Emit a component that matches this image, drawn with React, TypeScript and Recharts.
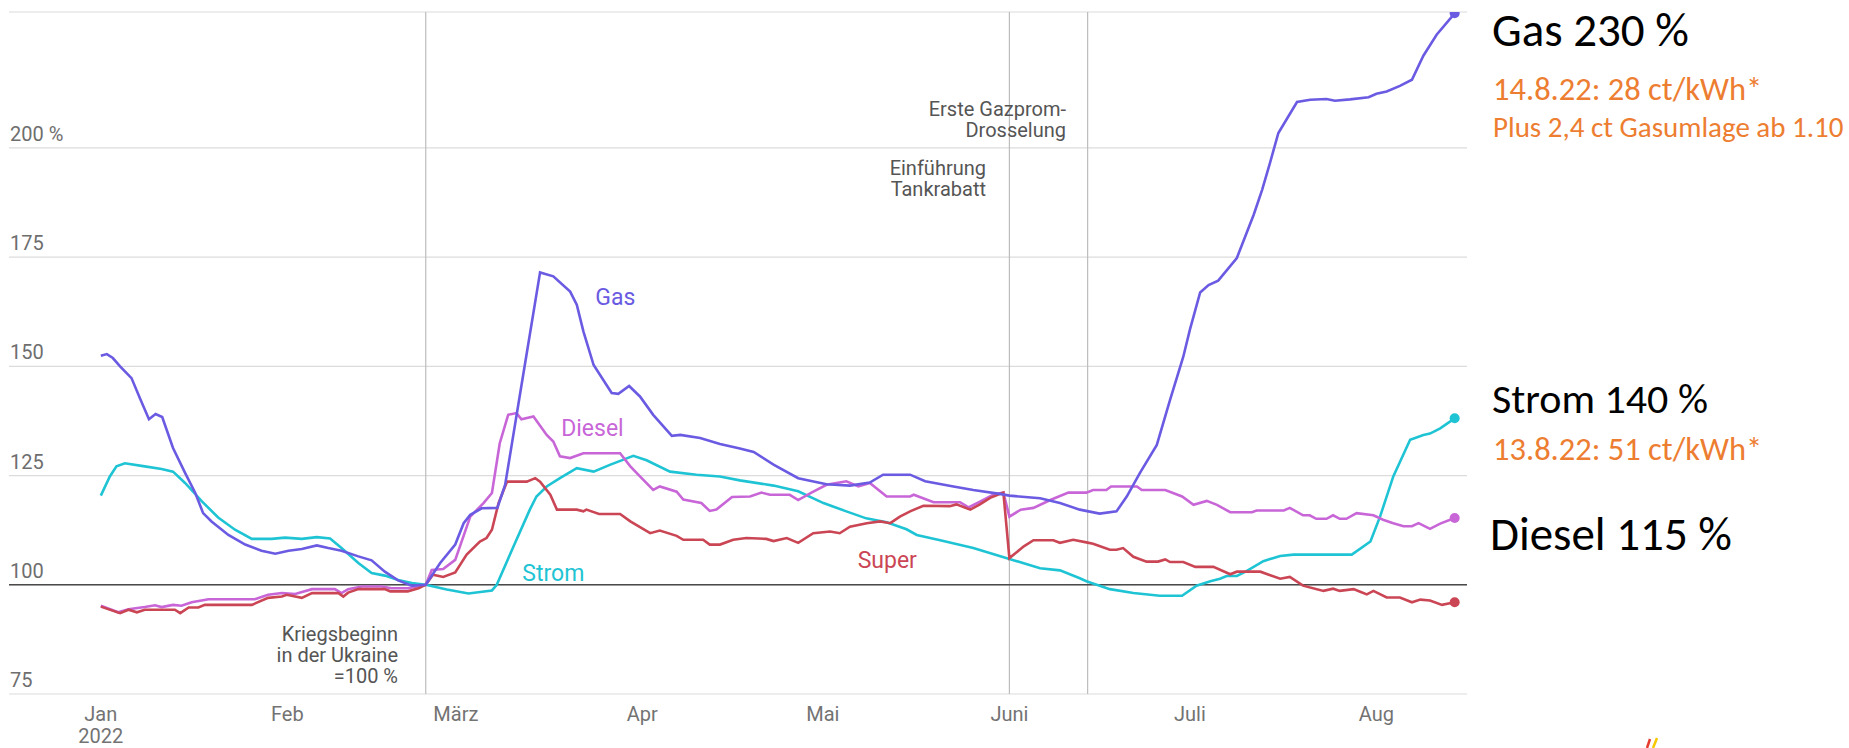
import React from 'react';
import { LineChart, Line, XAxis, YAxis, CartesianGrid, ReferenceLine, ReferenceDot } from 'recharts';

// days counted from 1 Jan 2022, index: 24 Feb 2022 = 100
const gas = [
  [0, 152.4], [1, 152.8], [2, 151.9], [3.2, 150], [5.1, 147.3], [6.5, 142.7], [8, 137.9], [9.1, 139.1],
  [10.2, 138.4], [12, 131.3], [14, 125.6], [15.7, 121], [17, 116.4], [18.4, 114.5], [21.2, 111.4], [24, 109.2],
  [26.7, 107.8], [29, 107.1], [31.2, 107.8], [33.4, 108.2], [35.9, 109], [37.8, 108.4], [40, 107.8], [42.8, 106.5],
  [45, 105.6], [47.2, 103], [49.4, 101], [51.7, 99.8], [54, 100], [56.4, 105], [58.9, 109.2], [60.3, 114.1],
  [61.4, 116], [63.3, 117.5], [65.9, 117.6], [67.2, 122.9], [69.7, 143.9], [73, 171.5], [75.2, 170.6], [78, 167.1],
  [79.1, 164.1], [80.2, 158], [81.9, 150.3], [84.9, 143.9], [86, 143.7], [87.8, 145.5], [89.6, 143.1], [91.8, 138.9],
  [94.9, 134.1], [96.3, 134.3], [99.6, 133.6], [102.9, 132.2], [106.2, 131.2], [108.5, 130.4], [111.8, 127.5],
  [115.9, 124.4], [120.6, 123], [124.5, 122.7], [127.8, 123.4], [130, 125.2], [134.5, 125.2], [137, 123.7],
  [141.7, 122.5], [145, 121.7], [149.4, 120.8], [151, 120.4], [156.1, 119.8], [159.4, 118.7], [162.7, 117.2],
  [166, 116.3], [168.8, 116.8], [170.5, 120.2], [172.7, 125.6], [175.5, 132], [177.7, 142.3], [179.9, 152.2],
  [181, 158.4], [182.7, 166.9], [184.1, 168.6], [185.7, 169.6], [188.8, 174.8], [191.6, 184.7], [193, 190.4],
  [194.3, 196.5], [195.7, 203.4], [198.8, 210.5], [201, 211], [203.7, 211.2], [205.1, 210.8], [207.6, 211.1],
  [210.7, 211.6], [212, 212.4], [213.7, 212.9], [215.9, 214.2], [217.9, 215.6], [219.8, 221.1], [222, 225.9],
  [225, 230.8],
];

const strom = [
  [0, 120.4], [1.5, 124.8], [2.6, 127.1], [4, 127.8], [7.3, 127.1], [10.1, 126.5], [12, 125.9], [14, 123.3],
  [16.8, 119.1], [19.5, 115.4], [22.3, 112.6], [25.1, 110.5], [28.4, 110.5], [30.6, 110.8], [33.4, 110.5],
  [35.9, 110.9], [38.1, 110.6], [40, 108.4], [42.8, 105], [45, 102.7], [47.2, 102.1], [49.4, 101.1], [51.7, 100.4],
  [54, 100], [57.5, 98.9], [61.1, 98], [65, 98.7], [65.8, 100], [68.6, 108.8], [71.3, 117.2], [72.4, 120.2],
  [74.1, 122.5], [76.3, 124.4], [79.1, 126.7], [81.9, 125.9], [84.7, 127.5], [88.5, 129.5], [90.7, 128.5],
  [94.6, 125.9], [99, 125.2], [102.9, 124.8], [106.2, 123.9], [111.8, 122.7], [115.9, 121.4], [120.1, 118.7],
  [123.9, 116.8], [127.2, 115.2], [130.6, 114.3], [133.9, 112.7], [135.6, 111.4], [139.5, 110.2], [145, 108.4],
  [151, 105.9], [156.1, 103.8], [159.4, 103.3], [162.7, 101.5], [163.8, 100.8], [167.7, 99], [171.6, 98.1],
  [176, 97.5], [179.7, 97.5], [182.1, 99.8], [184.4, 100.8], [186, 101.4], [187.1, 102], [188.8, 102],
  [190.4, 103.1], [193.2, 105.4], [196, 106.6], [198.2, 106.9], [207.9, 106.9], [211, 109.9], [212.6, 115.6],
  [214.8, 124.8], [217.6, 133.2], [219.8, 134.3], [220.9, 134.6], [222.6, 135.8], [225, 138.1],
];

const diesel = [
  [0, 95.2], [2.9, 93.7], [4.6, 94.4], [7.3, 94.9], [9, 95.3], [10.1, 94.9], [12, 95.4], [13.4, 95.2],
  [15.1, 96], [17.9, 96.7], [25.6, 96.7], [27.8, 97.7], [30.1, 98.1], [32.3, 97.9], [35.1, 99], [38.9, 99],
  [40, 98.1], [41.1, 99], [43.4, 99.6], [46.7, 99.6], [48.3, 99.2], [51, 99.2], [54, 100], [55, 103.4],
  [56.9, 103.6], [58.9, 105.7], [61.4, 115.6], [63.6, 118.7], [65, 121], [66.3, 132.4], [67.7, 138.9],
  [69.1, 139.3], [69.9, 137.9], [71.9, 138.5], [74.1, 134.3], [75.2, 132.8], [76.3, 129.4], [78, 129],
  [80.2, 130.1], [86.3, 130.1], [88, 127.1], [89.6, 124.8], [91.8, 121.7], [92.9, 122.5], [95.7, 121.3],
  [96.8, 119.5], [99.8, 118.7], [101.2, 116.9], [102.3, 117.2], [104.9, 120.1], [107.9, 120.2], [109.8, 121.1],
  [111.2, 120.6], [114.5, 120.6], [115.9, 119.4], [118.1, 121.1], [120.6, 122.9], [123.9, 123.7], [125.9, 122.5],
  [127.8, 123.3], [130.6, 120.2], [134.5, 120.2], [135.1, 120.6], [138.4, 118.9], [142.8, 118.9], [144.2, 117.7],
  [146.1, 119], [148.3, 120.6], [150, 121.1], [151, 115.6], [152.9, 117.2], [155, 117.6], [157.8, 119.4],
  [160.8, 121.1], [163.8, 121.1], [164.9, 121.7], [167.1, 121.7], [167.9, 122.5], [172.2, 122.5], [173, 121.7],
  [176.9, 121.7], [179.7, 120.2], [181.6, 118.3], [183.8, 119.2], [185.5, 118.3], [187.7, 116.6], [191.3, 116.6],
  [192.1, 117], [196.6, 117], [197.6, 117.6], [199.8, 115.9], [200.9, 115.9], [202, 115.1], [203.7, 115.1],
  [204.8, 115.9], [205.9, 115.1], [207, 115.1], [208.7, 116.4], [211.5, 115.9], [213.1, 114.9], [214.8, 114.1],
  [216.5, 113.4], [217.9, 113.4], [219, 114.1], [220.9, 112.8], [222.6, 114], [225, 115.3],
];

const superBenzin = [
  [0, 95], [3.2, 93.5], [4.6, 94.3], [6, 93.7], [7.3, 94.3], [12.3, 94.3], [13.2, 93.5], [14.6, 94.8],
  [16.2, 94.8], [17.3, 95.4], [25.1, 95.4], [27.8, 97], [30.1, 97.3], [30.9, 97.7], [32.3, 97.3], [33.4, 97],
  [35.1, 98.1], [39.5, 98.1], [40.3, 97.3], [41.1, 98.2], [42.8, 99], [47.2, 99], [48.1, 98.5], [51, 98.5],
  [52.8, 99.2], [54, 100], [55.2, 102.3], [56.9, 101.8], [58.9, 102.8], [60.8, 106.9], [63, 109.9], [64.1, 110.7],
  [65, 112.6], [66.1, 118.7], [67.5, 123.6], [70.8, 123.6], [72.2, 124.4], [73, 123.6], [74.7, 120.6],
  [75.8, 117.2], [79.1, 117.2], [80.2, 116.8], [80.7, 117.2], [82.8, 116.2], [86.3, 116.2], [88, 114.5],
  [91.3, 111.8], [92.9, 112.4], [95.7, 111.2], [96.8, 110.3], [100.1, 110.3], [101.2, 109.2], [102.9, 109.2],
  [105.1, 110.3], [107.3, 110.7], [110.6, 110.5], [111.8, 110], [114, 110.7], [115.9, 109.6], [118.4, 111.8],
  [121.2, 112.2], [122.8, 111.8], [124.5, 113.3], [127.3, 114.1], [129.5, 114.5], [131.2, 114.1], [132.8, 115.6],
  [134.5, 116.8], [136.7, 118.1], [141.1, 118], [142.2, 118.4], [144.5, 117.2], [146.1, 118.4], [147.8, 119.9],
  [150, 121.1], [151, 106.1], [153.4, 108.8], [155, 110.2], [158.3, 110.2], [159.4, 109.6], [161.6, 110.3],
  [163.8, 109.7], [164.9, 109.4], [167.7, 108], [168.8, 108], [169.9, 108.4], [171.6, 106.4], [173.8, 105.3],
  [175.7, 105.3], [176.9, 105.8], [177.7, 105.2], [179.9, 105.2], [181.9, 104.1], [184.9, 104.1], [187.7, 102.4],
  [188.8, 103], [192.7, 103], [196, 101.4], [197.6, 101.8], [199.8, 99.8], [203.2, 98.6], [204.8, 99.1],
  [205.9, 98.6], [208.2, 99], [209.3, 98.4], [210.4, 97.8], [211.5, 98.6], [213.7, 97.1], [215.9, 97.1],
  [217.9, 96], [219.3, 96.6], [220.9, 96.4], [222.9, 95.4], [225, 96],
];

const monthTicks = [0, 31, 59, 90, 120, 151, 181, 212];
const monthLabels = ['Jan', 'Feb', 'März', 'Apr', 'Mai', 'Juni', 'Juli', 'Aug'];
const valueTicks = [75, 100, 125, 150, 175, 200];
const eventDays = [54, 151, 164]; // Kriegsbeginn, Tankrabatt, Gazprom-Drosselung

const GAS = '#6a5be2';
const STROM = '#1fc4d4';
const DIESEL = '#c866d8';
const SUPER = '#cb4655';
const ORANGE = '#ed7d31';

const W = 1849;
const H = 748;
const PLOT_LEFT = 9;
const PLOT_TOP = 12;
const PLOT_RIGHT = 1467;
const PLOT_BOTTOM = 694;
const Y_AXIS_W = 1; // an axis of width 0 draws no ticks

const toRows = (pairs: number[][]) => pairs.map(([day, value]) => ({ day, value }));

const endDot = (color: string, n: number) => (p: any) =>
  p.index === n - 1 ? (
    <circle key={`e${p.index}`} cx={p.cx} cy={p.cy} r={5} fill={color} />
  ) : (
    <g key={`e${p.index}`} />
  );

const MonthTick = (props: any) => {
  const { x, payload, index } = props;
  return (
    <g>
      <text x={x} y={PLOT_BOTTOM + 27} textAnchor="middle" fontSize={20} fill="#737373">
        {monthLabels[monthTicks.indexOf(payload.value)]}
      </text>
      {index === 0 && (
        <text x={x} y={PLOT_BOTTOM + 49} textAnchor="middle" fontSize={20} fill="#737373">
          2022
        </text>
      )}
    </g>
  );
};

const ValueTick = (props: any) => {
  const { y, payload } = props;
  return (
    <text x={PLOT_LEFT + 1} y={y - 7} textAnchor="start" fontSize={20} fill="#6e6e6e">
      {payload.value === 200 ? '200 %' : payload.value}
    </text>
  );
};

const seriesLabel = (value: string, fill: string) => ({ value, position: 'center' as const, fill, fontSize: 23 });

export default function App() {
  const series = [
    { name: 'Strom', rows: toRows(strom), color: STROM },
    { name: 'Diesel', rows: toRows(diesel), color: DIESEL },
    { name: 'Super', rows: toRows(superBenzin), color: SUPER },
    { name: 'Gas', rows: toRows(gas), color: GAS },
  ];

  const note = { fontSize: 20, fill: '#555', textAnchor: 'end' as const };
  const calibri = 'Carlito, Lato, "Open Sans", sans-serif';

  return (
    <div
      style={{
        position: 'absolute',
        left: 0,
        top: 0,
        width: W,
        height: H,
        overflow: 'hidden',
        background: '#fff',
        fontFamily: 'Roboto, "Noto Sans", sans-serif',
      }}
    >
      <LineChart
        width={W}
        height={H}
        margin={{ top: PLOT_TOP, right: W - PLOT_RIGHT, bottom: 0, left: PLOT_LEFT - Y_AXIS_W }}
      >
        <CartesianGrid vertical={false} stroke="#dcdcdc" strokeWidth={1.2} />
        <XAxis
          type="number"
          dataKey="day"
          domain={[-15.26, 227.05]}
          ticks={monthTicks}
          tick={<MonthTick />}
          axisLine={false}
          tickLine={false}
          height={H - PLOT_BOTTOM}
          allowDataOverflow
        />
        <YAxis
          type="number"
          domain={[75, 231.1]}
          ticks={valueTicks}
          tick={<ValueTick />}
          axisLine={false}
          tickLine={false}
          width={Y_AXIS_W}
          interval={0}
          allowDataOverflow
        />
        {eventDays.map((d) => (
          <ReferenceLine key={d} x={d} stroke="#bdbdbd" strokeWidth={1.2} />
        ))}
        <ReferenceLine y={100} stroke="#4a4a4a" strokeWidth={1.6} />
        {series.map((s) => (
          <Line
            key={s.name}
            data={s.rows}
            dataKey="value"
            type="linear"
            stroke={s.color}
            strokeWidth={2.6}
            dot={endDot(s.color, s.rows.length)}
            activeDot={false}
            isAnimationActive={false}
          />
        ))}
        <ReferenceDot x={85.5} y={165.9} r={0} stroke="none" fill="none" label={seriesLabel('Gas', GAS)} />
        <ReferenceDot x={81.7} y={135.9} r={0} stroke="none" fill="none" label={seriesLabel('Diesel', DIESEL)} />
        <ReferenceDot x={75.2} y={102.7} r={0} stroke="none" fill="none" label={seriesLabel('Strom', STROM)} />
        <ReferenceDot x={130.7} y={105.6} r={0} stroke="none" fill="none" label={seriesLabel('Super', SUPER)} />
      </LineChart>

      <svg
        width={W}
        height={H}
        style={{ position: 'absolute', left: 0, top: 0, pointerEvents: 'none' }}
      >
        <g style={{ fontFamily: 'Roboto, "Noto Sans", sans-serif' }}>
          <text x={398} y={641} {...note}>Kriegsbeginn</text>
          <text x={398} y={662} {...note}>in der Ukraine</text>
          <text x={398} y={683} {...note}>=100 %</text>
          <text x={1066} y={116} {...note}>Erste Gazprom-</text>
          <text x={1066} y={137} {...note}>Drosselung</text>
          <text x={986} y={175} {...note}>Einführung</text>
          <text x={986} y={196} {...note}>Tankrabatt</text>
        </g>
        <g style={{ fontFamily: calibri }}>
          <text x={1492} y={46} fontSize={47} fill="#000">Gas 230 %</text>
          <text x={1493} y={100} fontSize={32.5} fill={ORANGE}>14.8.22: 28 ct/kWh*</text>
          <text x={1493} y={137} fontSize={29} fill={ORANGE}>Plus 2,4 ct Gasumlage ab 1.10</text>
          <text x={1492} y={413} fontSize={42} fill="#000">Strom 140 %</text>
          <text x={1493} y={460} fontSize={32.5} fill={ORANGE}>13.8.22: 51 ct/kWh*</text>
          <text x={1490} y={550} fontSize={47} fill="#000">Diesel 115 %</text>
        </g>
        <line x1={1647} y1={748} x2={1650} y2={739} stroke="#e53b2c" strokeWidth={2.5} />
        <line x1={1653} y1={748} x2={1657} y2={738} stroke="#f6c800" strokeWidth={2.5} />
      </svg>
    </div>
  );
}
